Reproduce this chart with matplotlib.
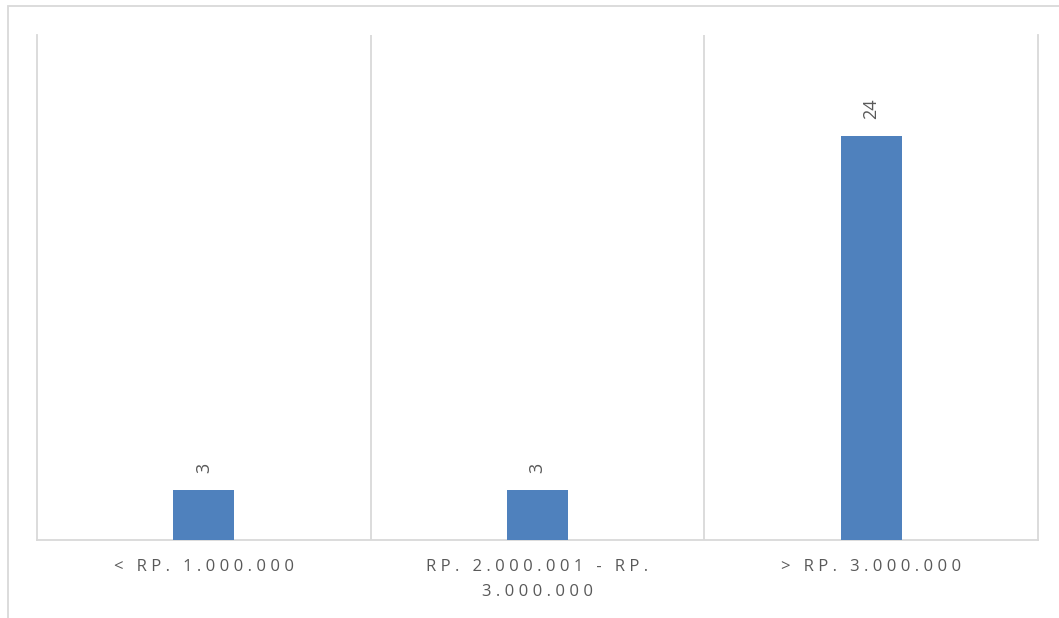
import matplotlib.pyplot as plt
from matplotlib.patches import Rectangle

categories = ["< RP. 1.000.000", "RP. 2.000.001 - RP.\n3.000.000", "> RP. 3.000.000"]
counts = [3, 3, 24]

GRID = "#d9d9d9"
TEXT = "#595959"
BAR = "#4f81bd"
FONT = ["Open Sans", "DejaVu Sans"]


def spaced(s, gap="\u2009\u200a"):
    # widen the tracking, line by line
    return "\n".join(gap.join(line) for line in s.split("\n"))


fig = plt.figure(figsize=(10.59, 6.18), dpi=100)
ax = fig.add_axes([37 / 1059, 78 / 618, 1001 / 1059, 505 / 618])

# chart-area frame, running off the right and bottom edges
fig.patches.append(Rectangle((8 / 1059, -0.1), 1.2, 1.1 - 6 / 618,
                             transform=fig.transFigure, fill=False,
                             edgecolor=GRID, linewidth=1.3))

x = list(range(len(categories)))
bars = ax.bar(x, counts, width=0.183, color=BAR, zorder=3)

ax.set_xlim(-0.5, len(categories) - 0.5)
ax.set_ylim(0, 30)

ax.set_xticks(x)
ax.set_xticklabels([spaced(c) for c in categories], color=TEXT, fontsize=12,
                   family=FONT, linespacing=1.75)
ax.set_xticks([i + 0.5 for i in x[:-1]], minor=True)
ax.tick_params(axis="x", which="both", length=0, pad=14)
ax.grid(axis="x", which="minor", color=GRID, linewidth=1.3)
ax.set_yticks([])

ax.spines["top"].set_visible(False)
for side in ["left", "right", "bottom"]:
    ax.spines[side].set_color(GRID)
    ax.spines[side].set_linewidth(1.3)

for rect, v in zip(bars, counts):
    ax.annotate(str(v), (rect.get_x() + rect.get_width() / 2, v),
                xytext=(0, 12), textcoords="offset points",
                rotation=90, ha="center", va="bottom",
                color=TEXT, fontsize=13, family=FONT)

fig.savefig("out.png", dpi=100)
